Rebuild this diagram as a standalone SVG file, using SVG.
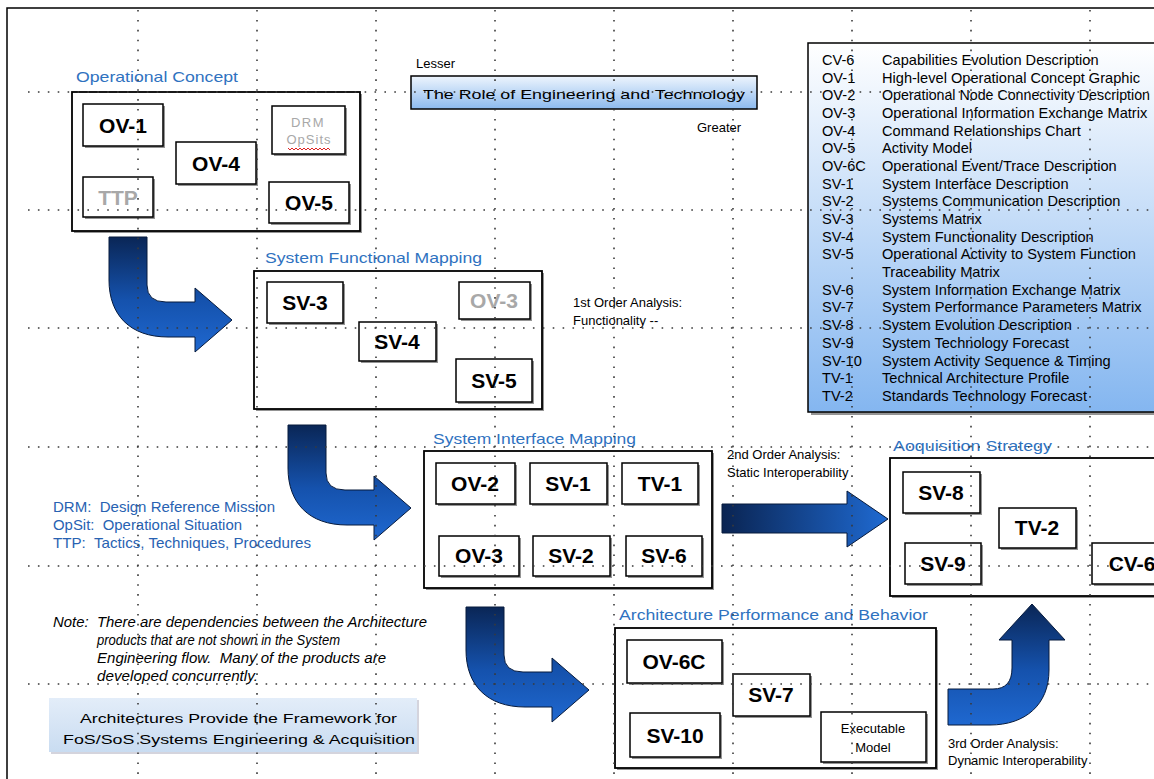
<svg xmlns="http://www.w3.org/2000/svg" width="1154" height="779" viewBox="0 0 1154 779">
<defs>
<linearGradient id="gBend" x1="0" y1="0" x2="0" y2="1">
<stop offset="0" stop-color="#0a2656"/><stop offset="0.55" stop-color="#1552ad"/><stop offset="1" stop-color="#1f68d0"/>
</linearGradient>
<linearGradient id="gStraight" x1="0" y1="0" x2="1" y2="0">
<stop offset="0" stop-color="#0a2452"/><stop offset="1" stop-color="#1f6ad2"/>
</linearGradient>
<linearGradient id="gLegend" x1="0" y1="0" x2="0" y2="1">
<stop offset="0" stop-color="#ffffff"/><stop offset="1" stop-color="#84b6f0"/>
</linearGradient>
<linearGradient id="gRole" x1="0" y1="0" x2="0" y2="1">
<stop offset="0" stop-color="#eef5fd"/><stop offset="1" stop-color="#8cbaef"/>
</linearGradient>
<linearGradient id="gFrame" x1="0" y1="0" x2="0" y2="1">
<stop offset="0" stop-color="#e3edf9"/><stop offset="1" stop-color="#c9dcf1"/>
</linearGradient>
<path id="bend" d="M0,0 H38 V48 Q38,65 57,65 H86 V51 L123,83 L86,115 V100 H59 C21,100 0,78 0,43 Z"/>
<style>
.box{fill:#fff;stroke:#000;stroke-width:1.5}
.sh{fill:#666;opacity:0.7}
.cont{fill:#fff;stroke:#000;stroke-width:1.8}
.nt{font-family:"Liberation Sans",Arial,sans-serif;font-weight:bold;font-size:21px;fill:#000;text-anchor:middle}
.lbl{font-family:"Liberation Sans",Arial,sans-serif;font-size:15px;fill:#2f72bf}
.txt{font-family:"Liberation Sans",Arial,sans-serif;font-size:13px;fill:#000}
.leg{font-family:"Liberation Sans",Arial,sans-serif;font-size:14.6px;fill:#000}
.blue{font-family:"Liberation Sans",Arial,sans-serif;font-size:14.5px;fill:#2862b2}
.note{font-family:"Liberation Sans",Arial,sans-serif;font-size:14px;font-style:italic;fill:#000}
.grid{stroke:#3a3a3a;stroke-width:1.6;stroke-dasharray:1.6 8.3;fill:none}
.arrowS{stroke:#061a3c;stroke-width:1}
text.gt{fill:#a8a8a8}
</style>
</defs>
<rect width="1154" height="779" fill="#fff"/>
<path d="M7,779 V8 H1154" fill="none" stroke="#000" stroke-width="1.5"/>

<!-- Role bar -->
<g id="role">
<text class="txt" x="416" y="68" font-size="14">Lesser</text>
<rect x="411" y="76" width="346" height="33" fill="url(#gRole)" stroke="#000" stroke-width="1.5"/>
<text class="txt" x="423" y="99" font-size="16" textLength="322" lengthAdjust="spacingAndGlyphs">The Role of Engineering and Technology</text>
<text class="txt" x="697" y="132" font-size="14">Greater</text>
</g>

<!-- Legend -->
<g id="legend">
<rect x="811" y="46" width="360" height="369" class="sh"/>
<rect x="808" y="43" width="360" height="369" fill="url(#gLegend)" stroke="#000" stroke-width="1.5"/>
<g class="leg">
<text x="822" y="65">CV-6</text><text x="882" y="65">Capabilities Evolution Description</text>
<text x="822" y="83">OV-1</text><text x="882" y="83">High-level Operational Concept Graphic</text>
<text x="822" y="100">OV-2</text><text x="882" y="100" textLength="268" lengthAdjust="spacingAndGlyphs">Operational Node Connectivity Description</text>
<text x="822" y="118">OV-3</text><text x="882" y="118">Operational Information Exchange Matrix</text>
<text x="822" y="136">OV-4</text><text x="882" y="136">Command Relationships Chart</text>
<text x="822" y="153">OV-5</text><text x="882" y="153">Activity Model</text>
<text x="822" y="171">OV-6C</text><text x="882" y="171">Operational Event/Trace Description</text>
<text x="822" y="189">SV-1</text><text x="882" y="189">System Interface Description</text>
<text x="822" y="206">SV-2</text><text x="882" y="206">Systems Communication Description</text>
<text x="822" y="224">SV-3</text><text x="882" y="224">Systems Matrix</text>
<text x="822" y="242">SV-4</text><text x="882" y="242">System Functionality Description</text>
<text x="822" y="259">SV-5</text><text x="882" y="259">Operational Activity to System Function</text>
<text x="882" y="277">Traceability Matrix</text>
<text x="822" y="295">SV-6</text><text x="882" y="295">System Information Exchange Matrix</text>
<text x="822" y="312">SV-7</text><text x="882" y="312">System Performance Parameters Matrix</text>
<text x="822" y="330">SV-8</text><text x="882" y="330">System Evolution Description</text>
<text x="822" y="348">SV-9</text><text x="882" y="348">System Technology Forecast</text>
<text x="822" y="366">SV-10</text><text x="882" y="366">System Activity Sequence &amp; Timing</text>
<text x="822" y="383">TV-1</text><text x="882" y="383">Technical Architecture Profile</text>
<text x="822" y="401">TV-2</text><text x="882" y="401">Standards Technology Forecast</text>
</g>
</g>

<!-- Operational Concept -->
<g id="operational-concept">
<text class="lbl" x="76" y="82" textLength="162" lengthAdjust="spacingAndGlyphs">Operational Concept</text>
<rect x="74" y="94" width="288" height="139" class="sh"/>
<rect x="72" y="92" width="288" height="139" class="cont"/>
<g id="ov1"><rect x="85" y="106" width="80" height="42" class="sh"/><rect x="83" y="104" width="80" height="42" class="box"/><text class="nt" x="123" y="133">OV-1</text></g>
<g id="drm"><rect x="274" y="108" width="73" height="48" class="sh"/><rect x="272" y="106" width="73" height="48" class="box"/>
<text class="txt gt" x="308" y="127" text-anchor="middle" font-size="14" letter-spacing="1.5">DRM</text>
<text class="txt gt" x="309" y="144" text-anchor="middle" font-size="14" letter-spacing="1">OpSits</text>
<path d="M288,148 l2,2 l2,-2 l2,2 l2,-2 l2,2 l2,-2 l2,2 l2,-2 l2,2 l2,-2 l2,2 l2,-2 l2,2 l2,-2 l2,2 l2,-2 l2,2 l2,-2 l2,2 l2,-2 l2,2" fill="none" stroke="#d22" stroke-width="1"/></g>
<g id="ov4"><rect x="178" y="144" width="80" height="42" class="sh"/><rect x="176" y="142" width="80" height="42" class="box"/><text class="nt" x="216" y="171">OV-4</text></g>
<g id="ttp"><rect x="85" y="179" width="70" height="40" class="sh"/><rect x="83" y="177" width="70" height="40" class="box"/><text class="nt gt" x="118" y="205">TTP</text></g>
<g id="ov5"><rect x="271" y="184" width="80" height="41" class="sh"/><rect x="269" y="182" width="80" height="41" class="box"/><text class="nt" x="309" y="210">OV-5</text></g>
</g>

<!-- System Functional Mapping -->
<g id="system-functional-mapping">
<text class="lbl" x="265" y="263" textLength="217" lengthAdjust="spacingAndGlyphs">System Functional Mapping</text>
<rect x="256" y="273" width="288" height="138" class="sh"/>
<rect x="254" y="271" width="288" height="138" class="cont"/>
<g id="sv3"><rect x="269" y="284" width="76" height="41" class="sh"/><rect x="267" y="282" width="76" height="41" class="box"/><text class="nt" x="305" y="310">SV-3</text></g>
<g id="ov3a"><rect x="461" y="284" width="71" height="37" class="sh"/><rect x="459" y="282" width="71" height="37" class="box"/><text class="nt gt" x="494" y="308">OV-3</text></g>
<g id="sv4"><rect x="361" y="324" width="77" height="39" class="sh"/><rect x="359" y="322" width="77" height="39" class="box"/><text class="nt" x="397" y="349">SV-4</text></g>
<g id="sv5"><rect x="458" y="361" width="76" height="43" class="sh"/><rect x="456" y="359" width="76" height="43" class="box"/><text class="nt" x="494" y="388">SV-5</text></g>
<text class="txt" x="573" y="307" font-size="13.5">1st Order Analysis:</text>
<text class="txt" x="573" y="325" font-size="13.5">Functionality --</text>
</g>

<!-- System Interface Mapping -->
<g id="system-interface-mapping">
<text class="lbl" x="433" y="444" textLength="203" lengthAdjust="spacingAndGlyphs">System Interface Mapping</text>
<rect x="426" y="453" width="288" height="137" class="sh"/>
<rect x="424" y="451" width="288" height="137" class="cont"/>
<g id="ov2"><rect x="438" y="465" width="79" height="41" class="sh"/><rect x="436" y="463" width="79" height="41" class="box"/><text class="nt" x="475" y="491">OV-2</text></g>
<g id="sv1"><rect x="532" y="465" width="77" height="41" class="sh"/><rect x="530" y="463" width="77" height="41" class="box"/><text class="nt" x="568" y="491">SV-1</text></g>
<g id="tv1"><rect x="624" y="465" width="76" height="41" class="sh"/><rect x="622" y="463" width="76" height="41" class="box"/><text class="nt" x="660" y="491">TV-1</text></g>
<g id="ov3b"><rect x="441" y="538" width="80" height="40" class="sh"/><rect x="439" y="536" width="80" height="40" class="box"/><text class="nt" x="479" y="563">OV-3</text></g>
<g id="sv2"><rect x="535" y="538" width="77" height="40" class="sh"/><rect x="533" y="536" width="77" height="40" class="box"/><text class="nt" x="571" y="563">SV-2</text></g>
<g id="sv6"><rect x="628" y="538" width="76" height="40" class="sh"/><rect x="626" y="536" width="76" height="40" class="box"/><text class="nt" x="664" y="563">SV-6</text></g>
<text class="txt" x="727" y="459" font-size="13.5">2nd Order Analysis:</text>
<text class="txt" x="727" y="477" font-size="13.5">Static Interoperability</text>
</g>

<!-- Acquisition Strategy -->
<g id="acquisition-strategy">
<text class="lbl" x="893" y="451" textLength="159" lengthAdjust="spacingAndGlyphs">Aoquisition Strategy</text>
<rect x="892" y="460" width="290" height="138" class="sh"/>
<rect x="890" y="458" width="290" height="138" class="cont"/>
<g id="sv8"><rect x="905" y="474" width="77" height="41" class="sh"/><rect x="903" y="472" width="77" height="41" class="box"/><text class="nt" x="941" y="500">SV-8</text></g>
<g id="tv2"><rect x="1001" y="510" width="77" height="40" class="sh"/><rect x="999" y="508" width="77" height="40" class="box"/><text class="nt" x="1037" y="535">TV-2</text></g>
<g id="sv9"><rect x="907" y="545" width="76" height="41" class="sh"/><rect x="905" y="543" width="76" height="41" class="box"/><text class="nt" x="943" y="571">SV-9</text></g>
<g id="cv6"><rect x="1094" y="545" width="80" height="41" class="sh"/><rect x="1092" y="543" width="80" height="41" class="box"/><text class="nt" x="1132" y="571">CV-6</text></g>
</g>

<!-- Architecture Performance and Behavior -->
<g id="architecture-performance">
<text class="lbl" x="619" y="620" textLength="309" lengthAdjust="spacingAndGlyphs">Architecture Performance and Behavior</text>
<rect x="617" y="630" width="321" height="140" class="sh"/>
<rect x="615" y="628" width="321" height="140" class="cont"/>
<g id="ov6c"><rect x="629" y="642" width="95" height="43" class="sh"/><rect x="627" y="640" width="95" height="43" class="box"/><text class="nt" x="674" y="669">OV-6C</text></g>
<g id="sv7"><rect x="735" y="676" width="77" height="42" class="sh"/><rect x="733" y="674" width="77" height="42" class="box"/><text class="nt" x="771" y="702">SV-7</text></g>
<g id="sv10"><rect x="632" y="715" width="90" height="44" class="sh"/><rect x="630" y="713" width="90" height="44" class="box"/><text class="nt" x="675" y="743">SV-10</text></g>
<g id="exec"><rect x="823" y="714" width="105" height="50" class="sh"/><rect x="821" y="712" width="105" height="50" class="box"/>
<text class="txt" x="873" y="733" text-anchor="middle" font-size="14.5">Executable</text><text class="txt" x="873" y="752" text-anchor="middle" font-size="14.5">Model</text></g>
<text class="txt" x="948" y="748" font-size="13.5">3rd Order Analysis:</text>
<text class="txt" x="948" y="765" font-size="13.5">Dynamic Interoperability</text>
</g>

<!-- Side notes -->
<g id="abbreviations">
<text class="blue" x="53" y="512" xml:space="preserve" textLength="222" lengthAdjust="spacingAndGlyphs">DRM:  Design Reference Mission</text>
<text class="blue" x="53" y="530" xml:space="preserve" textLength="189" lengthAdjust="spacingAndGlyphs">OpSit:  Operational Situation</text>
<text class="blue" x="53" y="548" xml:space="preserve" textLength="258" lengthAdjust="spacingAndGlyphs">TTP:  Tactics, Techniques, Procedures</text>
</g>
<g id="note">
<text class="note" x="53" y="627" xml:space="preserve" textLength="374" lengthAdjust="spacingAndGlyphs">Note:  There are dependencies between the Architecture</text>
<text class="note" x="97" y="645" textLength="243" lengthAdjust="spacingAndGlyphs">products that are not shown in the System</text>
<text class="note" x="97" y="663" xml:space="preserve" textLength="289" lengthAdjust="spacingAndGlyphs">Engineering flow.  Many of the products are</text>
<text class="note" x="97" y="681" textLength="161" lengthAdjust="spacingAndGlyphs">developed concurrently.</text>
</g>
<g id="framework">
<rect x="51" y="700" width="368" height="54" fill="#aab" opacity="0.5"/>
<rect x="49" y="698" width="368" height="54" fill="url(#gFrame)"/>
<text class="txt" x="80" y="723" font-size="16" fill="#222" textLength="317" lengthAdjust="spacingAndGlyphs">Architectures Provide the Framework for</text>
<text class="txt" x="63" y="744" font-size="16" fill="#222" textLength="352" lengthAdjust="spacingAndGlyphs">FoS/SoS Systems Engineering &amp; Acquisition</text>
</g>

<!-- Connectors -->
<g id="connectors">
<use href="#bend" transform="translate(109,237)" fill="url(#gBend)" class="arrowS"/>
<use href="#bend" transform="translate(288,425)" fill="url(#gBend)" class="arrowS"/>
<use href="#bend" transform="translate(466,607)" fill="url(#gBend)" class="arrowS"/>
<path d="M722,504 H847 V491 L888,519 L847,547 V533 H722 Z" fill="url(#gStraight)" class="arrowS"/>
<path d="M948,689 H993 Q1012,689 1012,668 V640 H999 L1032,604 L1065,640 H1049 V670 C1049,705 1025,725 990,725 H948 Z" fill="url(#gBend)" class="arrowS"/>
</g>

<!-- Grid -->
<g id="grid" class="grid">
<path d="M28,92 H1154 M28,210 H1154 M28,328 H1154 M28,447 H1154 M28,566 H1154 M28,684 H1154"/>
<path d="M138,10 V779 M257,10 V779 M376,10 V779 M495,10 V779 M614,10 V779 M733,10 V779 M852,10 V779 M971,10 V779 M1090,10 V779"/>
</g>
</svg>
